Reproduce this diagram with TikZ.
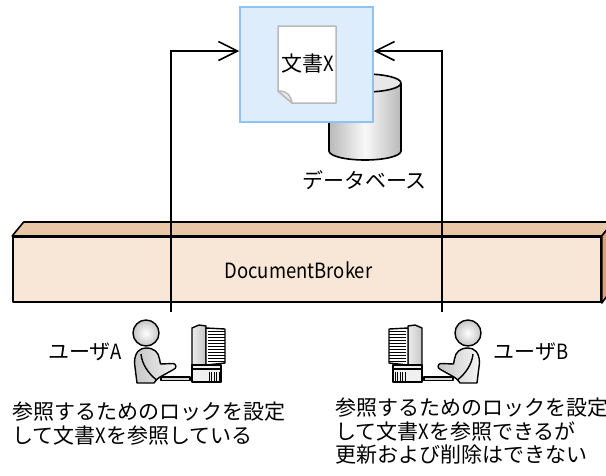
\documentclass[tikz,border=0pt]{standalone}
\usepackage{fontspec}
\newfontfamily\jp{Noto Sans CJK JP}
\newfontfamily\jplat[FakeStretch=0.88]{Noto Sans CJK JP}
\newcommand\hw[1]{{\jplat #1}}
\usetikzlibrary{arrows.meta}

\definecolor{panefill}{RGB}{221,237,252}
\definecolor{paneline}{RGB}{140,195,240}
\definecolor{brokerfront}{RGB}{248,231,214}
\definecolor{brokertop}{RGB}{233,198,165}
\definecolor{brokerside}{RGB}{217,164,122}

\tikzset{
  conn/.style={line width=1.6pt, -{Straight Barb[length=19pt,width=19pt]}},
  iconline/.style={line width=1.4pt, line join=round},
  edge3d/.style={line width=1.6pt, line join=round},
  note/.style={anchor=north west, align=left, inner sep=0pt},
  user/.pic={
    % keyboard
    \draw[iconline, fill=gray!30] (15,44) -- (44,44) -- (44,47.5) -- (15,47.5) -- cycle;
    % torso with the arm reaching for the keyboard
    \draw[iconline, left color=gray!45, right color=gray!8]
      (-9,50) -- (-11.5,30) .. controls (-11.5,19) and (-6,15) .. (0,15)
      .. controls (8,15) and (12.5,19) .. (13.5,26) -- (14.5,31) -- (27,30.5)
      .. controls (30.5,30.5) and (31,35.5) .. (27.5,36.5) -- (14,44)
      .. controls (11,46) and (9,48) .. (8,50) -- cycle;
    % back edge of the upper arm
    \draw[iconline] (-5,21) .. controls (-4,31) and (2,40) .. (10,46.5);
    % head
    \draw[iconline, inner color=white, outer color=gray!45] (0,0) circle[radius=13];
    % monitor casing
    \draw[iconline, left color=gray!15, right color=gray!45] (46,-5) -- (53,-8) -- (60,-7) -- (60,32) -- (46,32) -- cycle;
    % screen panel
    \draw[iconline, fill=white] (60,-5) -- (79,-4) -- (79,30) -- (60,32) -- cycle;
    \foreach \k in {0,...,10} \draw[line width=0.9pt] (62,-1.5+3*\k) -- (79,-1.5+3*\k);
    % system unit
    \draw[iconline, fill=gray!12] (46,32) rectangle (75,49);
    \draw[iconline] (46,36) -- (75,36);
    \foreach \k in {0,...,4} \draw[line width=0.9pt] (63+2.5*\k,39) -- (63+2.5*\k,48);
  }
}

\begin{document}
\begin{tikzpicture}[x=1pt, y=-1pt, font=\jp\fontsize{21pt}{23.5pt}\selectfont]
\useasboundingbox (0,0) rectangle (606,475);
\clip (0,0) rectangle (606,475);

% database cylinder
\path[left color=gray!55, right color=gray!55, middle color=gray!5]
  (329,83) -- (329,151) .. controls (329,156) and (345.1,160) .. (365,160)
  .. controls (384.9,160) and (401,156) .. (401,151) -- (401,83) -- cycle;
\draw[edge3d] (329,83) -- (329,151) .. controls (329,156) and (345.1,160) .. (365,160)
  .. controls (384.9,160) and (401,156) .. (401,151) -- (401,83);
\draw[edge3d, fill=gray!18] (365,83) ellipse [x radius=36, y radius=9];
\node (dblbl) at (364.5,180) {データベース};

% shared document pane
\node[draw=paneline, fill=panefill, line width=1.5pt, minimum width=133pt, minimum height=115pt, inner sep=0pt] (box) at (306.5,64.5) {};
\draw[line width=1.5pt, draw=gray!55, fill=white, line join=round]
  (278,26) -- (336,26) -- (336,103) -- (292,103) -- (278,91) -- cycle;
\draw[line width=1.5pt, draw=gray!55, fill=gray!15, line join=round]
  (278,91) .. controls (288,91) and (290,95) .. (292,103) -- cycle;
\node (doc) at (307.5,64) {文書\hw{X}};

% DocumentBroker slab
\node[draw, edge3d, fill=brokerfront, minimum width=588pt, minimum height=65.5pt, inner sep=0pt] (broker) at (307,269.5) {};
\draw[edge3d, fill=brokertop] (broker.north west) -- ++(11.5,-14) -- ([shift={(11.5,-14)}]broker.north east) -- (broker.north east) -- cycle;
\draw[edge3d, fill=brokerside] (broker.north east) -- ++(11.5,-14) -- ++(0,65.5) -- (broker.south east) -- cycle;
\node (brokerlbl) at (298.5,270) {\hw{DocumentBroker}};

% users
\pic at (146,333) {user};
\pic[xscale=-1] at (468,333) {user};
\node (ualbl) at (85,352) {ユーザ\hw{A}};
\node (ublbl) at (531,352) {ユーザ\hw{B}};

% access paths to the document
\coordinate (lvl) at (0,51);
\coordinate (ua) at (171,312);
\coordinate (ub) at (442,312);
\draw[conn] (ua) |- (box.west |- lvl);
\draw[conn] (ub) |- (box.east |- lvl);

% notes
\node[note] (notea) at (12,402) {参照するためのロックを設定\\して文書\hw{X}を参照している};
\node[note] (noteb) at (335,398) {参照するためのロックを設定\\して文書\hw{X}を参照できるが\\更新および削除はできない};
\end{tikzpicture}
\end{document}
